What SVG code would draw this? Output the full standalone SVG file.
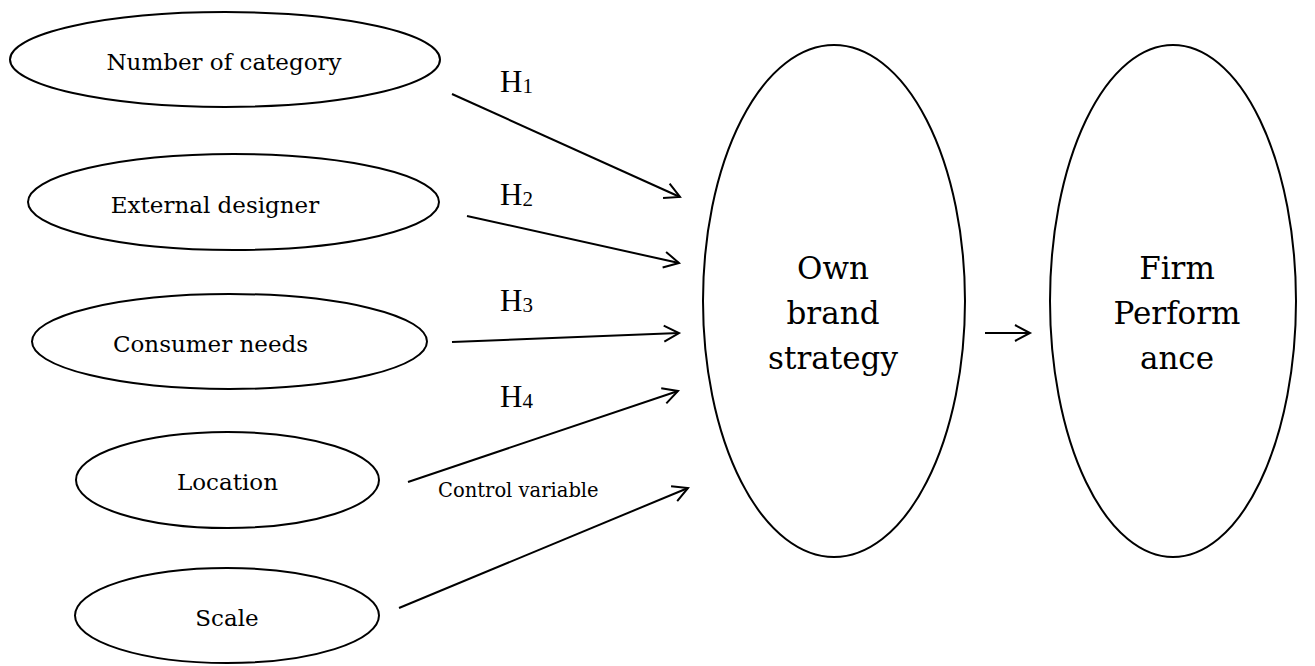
<svg xmlns="http://www.w3.org/2000/svg" width="1315" height="666" viewBox="0 0 1315 666">
<defs>
<style>
.node ellipse{fill:#fff;stroke:#000;stroke-width:2}
.lbl{font-family:"DejaVu Serif","Liberation Serif",serif;font-size:23px;fill:#000;text-anchor:middle}
.big{font-family:"DejaVu Serif","Liberation Serif",serif;font-size:31px;fill:#000;text-anchor:middle}
.h{font-family:"Liberation Serif","DejaVu Serif",serif;font-size:31px;fill:#000}
.sub{font-size:21px}
.cv{font-family:"DejaVu Serif","Liberation Serif",serif;font-size:19.5px;fill:#000}
.conn line{stroke:#000;stroke-width:2;fill:none;marker-end:url(#arr)}
</style>
<marker id="arr" markerUnits="userSpaceOnUse" markerWidth="22" markerHeight="22" viewBox="0 0 22 22" refX="19" refY="11" orient="auto">
<path d="M4,3 L19,11 L4,19" fill="none" stroke="#000" stroke-width="2"/>
</marker>
</defs>
<rect width="1315" height="666" fill="#fff"/>
<g id="n-category" class="node"><ellipse cx="225" cy="59.5" rx="215" ry="47.5"/><text class="lbl" x="224" y="70">Number of category</text></g>
<g id="n-designer" class="node"><ellipse cx="233.5" cy="202" rx="205.5" ry="48"/><text class="lbl" x="215" y="213">External designer</text></g>
<g id="n-needs" class="node"><ellipse cx="229.5" cy="341.5" rx="197.5" ry="47.5"/><text class="lbl" x="210.5" y="352">Consumer needs</text></g>
<g id="n-location" class="node"><ellipse cx="227.5" cy="480" rx="151.5" ry="48"/><text class="lbl" x="227.5" y="490">Location</text></g>
<g id="n-scale" class="node"><ellipse cx="227" cy="615.5" rx="152" ry="47.5"/><text class="lbl" x="227" y="626">Scale</text></g>
<g id="n-own" class="node"><ellipse cx="834" cy="301" rx="131" ry="256"/><text class="big" x="833" y="279">Own</text><text class="big" x="833" y="324">brand</text><text class="big" x="833" y="369">strategy</text></g>
<g id="n-firm" class="node"><ellipse cx="1173" cy="301" rx="123" ry="256"/><text class="big" x="1177" y="279">Firm</text><text class="big" x="1177" y="324">Perform</text><text class="big" x="1177" y="369">ance</text></g>
<g id="connectors" class="conn">
<line x1="452" y1="94" x2="680" y2="197"/>
<line x1="467" y1="216" x2="679" y2="263"/>
<line x1="452" y1="342" x2="679" y2="333"/>
<line x1="408" y1="482" x2="678" y2="391"/>
<line x1="399" y1="608" x2="688" y2="488"/>
<line x1="985" y1="333" x2="1030" y2="333"/>
</g>
<g id="labels">
<text class="h" x="500" y="92">H<tspan class="sub" dy="1">1</tspan></text>
<text class="h" x="500" y="205">H<tspan class="sub" dy="1">2</tspan></text>
<text class="h" x="500" y="311">H<tspan class="sub" dy="1">3</tspan></text>
<text class="h" x="500" y="407">H<tspan class="sub" dy="1">4</tspan></text>
<text class="cv" x="438" y="497">Control variable</text>
</g>
</svg>
